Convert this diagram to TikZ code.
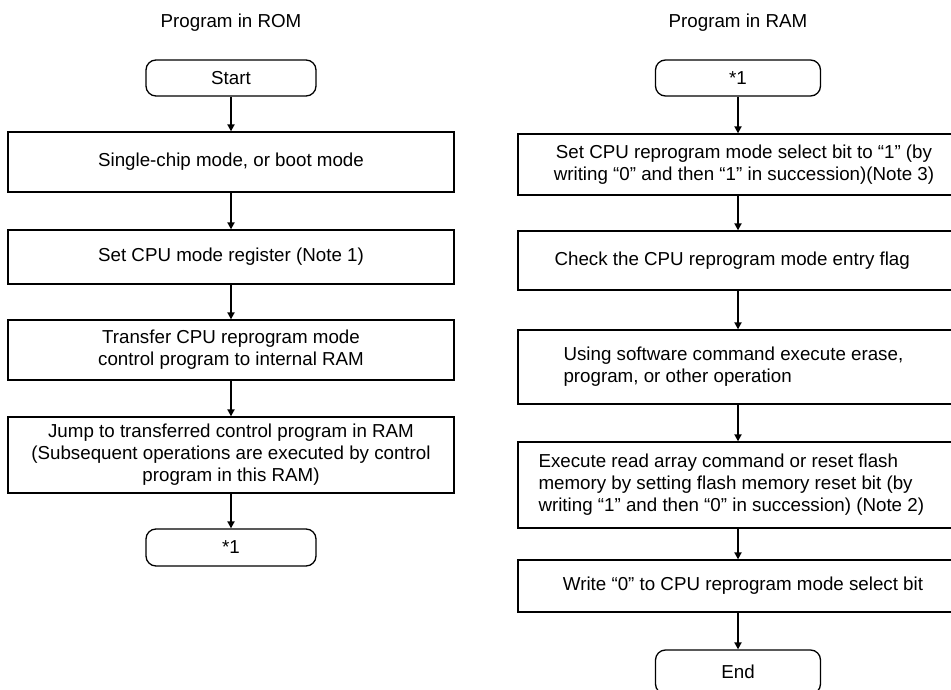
\documentclass[tikz,border=0pt]{standalone}
\usepackage{fontspec}
\setmainfont{Liberation Sans}
\usetikzlibrary{arrows.meta}
\begin{document}
\begin{tikzpicture}[x=1pt,y=-1pt,
  box/.style={draw, line width=1.3pt, inner sep=0pt, minimum width=446pt},
  rbox/.style={draw, line width=1.3pt, inner sep=0pt, minimum width=440pt},
  term/.style={draw, line width=1.3pt, rounded corners=10pt, inner sep=0pt, minimum width=170pt, font=\fontsize{18.75}{22}\selectfont},
  txt/.style={font=\fontsize{18.75}{22}\selectfont, inner sep=0pt, align=center},
  ltxt/.style={font=\fontsize{18.75}{22}\selectfont, inner sep=0pt, align=left, anchor=west},
  flow/.style={line width=1.8pt, -{Triangle[length=7pt,width=7pt]}},
]
\clip (0,0) rectangle (951,690);
\fill[white] (0,0) rectangle (951,690);

% titles
\node[txt] (t1) at (231,23) {Program in ROM};
\node[txt] (t2) at (738,23) {Program in RAM};

% left column
\node[term, minimum height=36pt] (ls) at (231,78) {Start};
\node[box, minimum height=60pt, txt] (l1) at (231,162) {Single-chip mode, or boot mode};
\node[box, minimum height=54pt, txt] (l2) at (231,257) {Set CPU mode register (Note 1)};
\node[box, minimum height=60pt, txt] (l3) at (231,350) {Transfer CPU reprogram mode\\control program to internal RAM};
\node[box, minimum height=76pt, txt] (l4) at (231,455) {Jump to transferred control program in RAM\\(Subsequent operations are executed by control\\program in this RAM)};
\node[term, minimum height=37pt] (le) at (231,547.5) {*1};

\draw[flow] (ls) -- (l1);
\draw[flow] (l1) -- (l2);
\draw[flow] (l2) -- (l3);
\draw[flow] (l3) -- (l4);
\draw[flow] (l4) -- (le);

% right column
\node[term, minimum width=165pt, minimum height=36pt] (rs) at (738,78) {*1};
\node[rbox, minimum height=61pt] (r1) at (738,164.5) {};
\node[rbox, minimum height=59pt] (r2) at (738,260.5) {};
\node[rbox, minimum height=74pt] (r3) at (738,367) {};
\node[rbox, minimum height=86pt] (r4) at (738,485) {};
\node[rbox, minimum height=52pt] (r5) at (738,586) {};
\node[term, minimum width=165pt, minimum height=44pt] (re) at (738,672) {End};

\node[txt] (r1t) at ([xshift=6pt]r1.center) {Set CPU reprogram mode select bit to “1” (by\\writing “0” and then “1” in succession)(Note 3)};
\node[ltxt] (r2t) at ([xshift=37pt]r2.west) {Check the CPU reprogram mode entry flag};
\node[ltxt] (r3t) at ([xshift=46pt]r3.west) {Using software command execute erase,\\program, or other operation};
\node[ltxt] (r4t) at ([xshift=21pt]r4.west) {Execute read array command or reset flash\\memory by setting flash memory reset bit (by\\writing “1” and then “0” in succession) (Note 2)};
\node[txt] (r5t) at ([xshift=5pt]r5.center) {Write “0” to CPU reprogram mode select bit};

\draw[flow] (rs) -- (r1);
\draw[flow] (r1) -- (r2);
\draw[flow] (r2) -- (r3);
\draw[flow] (r3) -- (r4);
\draw[flow] (r4) -- (r5);
\draw[flow] (r5) -- (re);
\end{tikzpicture}
\end{document}
